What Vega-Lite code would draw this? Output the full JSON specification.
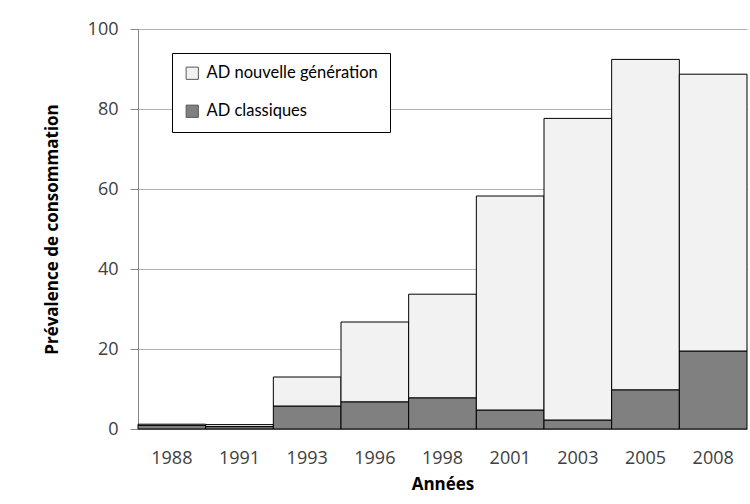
{
  "$schema": "https://vega.github.io/schema/vega-lite/v6.json",
  "autosize": "none",
  "width": 609,
  "height": 400,
  "padding": {"left": 138, "top": 29, "right": 3, "bottom": 75},
  "background": "white",
  "config": {
    "view": {"stroke": null},
    "font": "Open Sans"
  },
  "data": {
    "values": [
      {"annee": "1988", "type": "AD classiques", "valeur": 0.9},
      {"annee": "1988", "type": "AD nouvelle génération", "valeur": 0.3},
      {"annee": "1991", "type": "AD classiques", "valeur": 0.6},
      {"annee": "1991", "type": "AD nouvelle génération", "valeur": 0.5},
      {"annee": "1993", "type": "AD classiques", "valeur": 5.75},
      {"annee": "1993", "type": "AD nouvelle génération", "valeur": 7.25},
      {"annee": "1996", "type": "AD classiques", "valeur": 6.8},
      {"annee": "1996", "type": "AD nouvelle génération", "valeur": 19.95},
      {"annee": "1998", "type": "AD classiques", "valeur": 7.8},
      {"annee": "1998", "type": "AD nouvelle génération", "valeur": 25.9},
      {"annee": "2001", "type": "AD classiques", "valeur": 4.75},
      {"annee": "2001", "type": "AD nouvelle génération", "valeur": 53.5},
      {"annee": "2003", "type": "AD classiques", "valeur": 2.25},
      {"annee": "2003", "type": "AD nouvelle génération", "valeur": 75.4},
      {"annee": "2005", "type": "AD classiques", "valeur": 9.8},
      {"annee": "2005", "type": "AD nouvelle génération", "valeur": 82.6},
      {"annee": "2008", "type": "AD classiques", "valeur": 19.5},
      {"annee": "2008", "type": "AD nouvelle génération", "valeur": 69.2}
    ]
  },
  "mark": {"type": "bar", "stroke": "#000000", "strokeWidth": 1},
  "encoding": {
    "x": {
      "field": "annee",
      "type": "nominal",
      "scale": {"paddingInner": 0, "paddingOuter": 0},
      "axis": {
        "title": "Années",
        "labelAngle": 0,
        "ticks": false,
        "labelPadding": 20,
        "labelFontSize": 18,
        "labelColor": "#404040",
        "titleFontSize": 17,
        "titleFontWeight": "bold",
        "titleColor": "#000000",
        "titlePadding": 9,
        "domainColor": "#868686"
      }
    },
    "y": {
      "field": "valeur",
      "type": "quantitative",
      "aggregate": "sum",
      "stack": "zero",
      "scale": {"domain": [0, 100], "nice": false},
      "axis": {
        "title": "Prévalence de consommation",
        "values": [0, 20, 40, 60, 80, 100],
        "tickSize": 8,
        "tickColor": "#868686",
        "labelPadding": 12,
        "labelFontSize": 18,
        "labelColor": "#404040",
        "domainColor": "#868686",
        "gridColor": "#b0b0b0",
        "titleFontSize": 17,
        "titleFontWeight": "bold",
        "titleColor": "#000000",
        "titlePadding": 26
      }
    },
    "color": {
      "field": "type",
      "type": "nominal",
      "scale": {
        "domain": ["AD nouvelle génération", "AD classiques"],
        "range": ["#f2f2f2", "#808080"]
      },
      "legend": {
        "title": null,
        "orient": "none",
        "legendX": 34,
        "legendY": 24,
        "strokeColor": "#000000",
        "padding": 12,
        "symbolType": "square",
        "symbolSize": 150,
        "symbolStrokeColor": "#595959",
        "symbolStrokeWidth": 1,
        "labelFont": "Lato",
        "labelFontSize": 16.5,
        "labelLimit": 400,
        "labelColor": "#000000",
        "labelOffset": 6,
        "rowPadding": 21,
        "fillColor": "white"
      }
    },
    "order": {"field": "type", "sort": "ascending"}
  }
}
